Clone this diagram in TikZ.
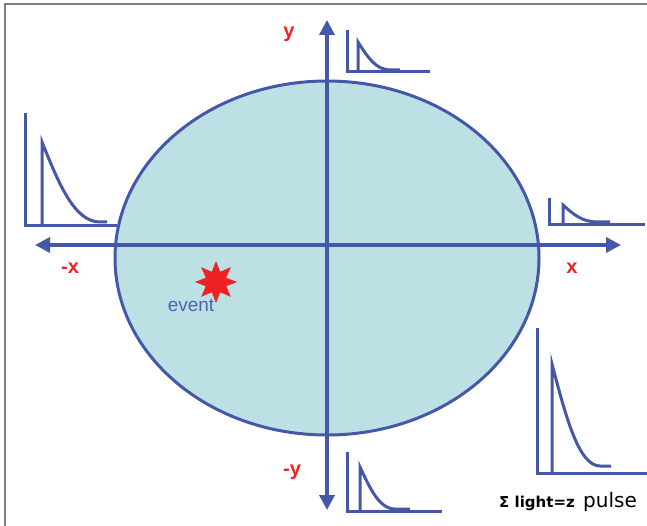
\documentclass[tikz,border=0pt]{standalone}
\usepackage{fontspec}
\setmainfont{Liberation Sans}
\newfontfamily\dejavu{DejaVu Sans}
\usetikzlibrary{arrows.meta,shapes.geometric}
\definecolor{axc}{HTML}{4657A8}
\definecolor{fillc}{HTML}{BDE0E4}
\definecolor{labc}{HTML}{EE2222}
\definecolor{evc}{HTML}{4F63B0}
\newcommand\drawpulse[9]{%
  \draw[pulse] (#1,#2) -- (#1,#3) -- (#4,#3);
  \draw[pulse] (#5,#3) -- (#5,#6)
    .. controls ({#5+0.28*(#8-#5)},{#6+0.5*(#7-#6)}) and ({#5+0.55*(#8-#5)},{#7}) .. (#8,#7) -- (#9,#7);
}
\begin{document}
\begin{tikzpicture}[x=1pt,y=-1pt,
  axisline/.style={draw=axc,line width=3.5pt},
  tip/.style={-{Triangle[width=15pt,length=15pt]}},
  pulse/.style={draw=axc,line width=3pt,line join=miter},
  lbl/.style={text=labc,font=\fontsize{20}{20}\selectfont\bfseries,inner sep=0pt}]
\useasboundingbox (0,0) rectangle (647,526);
\draw[gray,line width=2pt] (5,526) -- (5,4) -- (647,4);
% detector
\draw[draw=axc,fill=fillc,line width=3pt] (327,258) ellipse [x radius=212, y radius=177];
% axes
\coordinate (o) at (327,245);
\coordinate (xl) at (35,245);
\coordinate (xr) at (621,245);
\coordinate (yt) at (327,20);
\coordinate (yb) at (327,510);
\draw[axisline,tip] (o) -- (xr);
\draw[axisline,tip] (o) -- (xl);
\draw[axisline,tip] (o) -- (yt);
\draw[axisline,tip] (o) -- (yb);
% labels
\node[lbl] (ly) at (289,34) {y};
\node[lbl] (lmx) at (70,268) {-x};
\node[lbl] (lx) at (572,268) {x};
\node[lbl] (lmy) at (292,472) {-y};
% pulses
\drawpulse{25}{113}{226}{117}{42}{142}{222}{100}{107}
\drawpulse{347}{30}{72}{430}{358}{42}{70}{390}{400}
\drawpulse{549}{198}{225}{645}{563}{205}{222}{597}{610}
\drawpulse{537}{328}{473}{647}{552}{364}{466}{600}{611}
\drawpulse{347}{452}{511}{442}{360}{467}{509}{395}{410}
% event
\node[star,star points=8,star point ratio=1.9,fill=labc,minimum size=42pt,inner sep=0pt] (ev) at (216,282) {};
\node[text=evc,font=\fontsize{19}{19}\selectfont,anchor=base,inner sep=0pt] (evt) at (191,311) {event};
% sum
\node[anchor=base west,inner sep=0pt,font=\dejavu\fontsize{15}{15}\selectfont\bfseries] (sum) at (499,507) {Σ light=z};
\node[anchor=base west,inner sep=0pt,font=\dejavu\fontsize{20}{20}\selectfont] (pul) at (583,507) {pulse};
\end{tikzpicture}
\end{document}
